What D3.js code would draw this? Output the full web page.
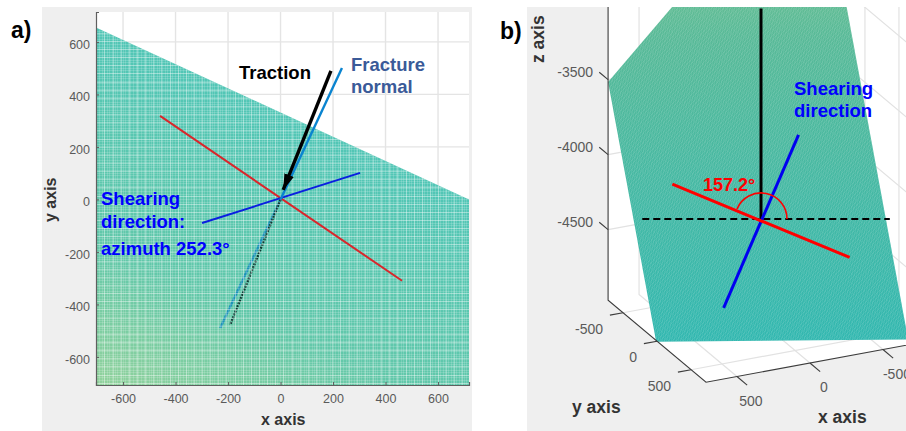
<!DOCTYPE html>
<html>
<head>
<meta charset="utf-8">
<script src="https://cdn.jsdelivr.net/npm/d3@7"></script>
<style>
  body { margin: 0; background: #fff; }
  svg { display: block; }
  text { font-family: 'Liberation Sans', Arial, sans-serif; }
  .tick-label { font-size: 12.5px; fill: #5a5a5a; }
  .tick-label-3d { font-size: 14px; fill: #5a5a5a; }
  .axis-name { font-size: 16px; font-weight: bold; fill: #333; }
  .note { font-size: 18.5px; font-weight: bold; }
</style>
</head>
<body>
<svg id="chart" width="906" height="431"></svg>
<script>
// tick labels
const xTicks2d = [-600, -400, -200, 0, 200, 400, 600];
const yTicks2d = [-600, -400, -200, 0, 200, 400, 600];
const xTicks3d = [-500, 0, 500];
const yTicks3d = [-500, 0, 500];
const zTicks3d = [-4500, -4000, -3500, -3000];

// fracture plane corners (read from both views)
const planeX = [718, -703, -703, 718];
const planeY = [0, 655, -707, -707];
const planeZ = [-4972, -4965, -2145, -3509];

// colour runs along the dip of the plane, low to high
const fadeX = [127, -395];
const fadeY = [273, -851];
const fadeZ = [-4970, -2145];
const fadeOffsets = [0, 0.6, 1];
const fadeColorsA = ['#52c6b6', '#62c8aa', '#92d29c'];
const fadeColorsB = ['#33b8b0', '#58ba98', '#8fc98a'];

// lines on the plane
const strikeX = [-459, 463];
const strikeY = [318, -310];
const strikeZ = [-4501, -4086];
const shearX = [-299, 303];
const shearY = [-90, 101];
const shearZ = [-3810, -4783];
const normalTopX = [0, 234];
const normalTopY = [0, 501];
const normalLowX = [0, -230];
const normalLowY = [0, -490];
const tractionTopX = [192, 10];
const tractionTopY = [490, 36];
const tractionLowX = [0, -192];
const tractionLowY = [0, -478];

// panel b extras
const verticalX = [0, 0];
const verticalY = [0, 0];
const verticalZ = [-4283, -2880];
const levelX = [666, -723];
const levelY = [-316, 342];
const levelZ = [-4283, -4283];
const dipAngle = [157.2];

const svg = d3.select('#chart');

// backgrounds
svg.append('rect').attr('x', 42).attr('y', 7).attr('width', 430).attr('height', 424).attr('fill', '#efefef');
svg.append('rect').attr('x', 527).attr('y', 7).attr('width', 379).attr('height', 424).attr('fill', '#efefef');

const defs = svg.append('defs');

defs.append('marker')
  .attr('id', 'head')
  .attr('viewBox', '0 0 16 10')
  .attr('refX', 16)
  .attr('refY', 5)
  .attr('markerUnits', 'userSpaceOnUse')
  .attr('markerWidth', 16)
  .attr('markerHeight', 10)
  .attr('orient', 'auto')
  .append('path')
  .attr('d', 'M0 0 L16 5 L0 10 Z')
  .attr('fill', '#000');

const addFade = (id, p0, p1, colors) => {
  const grad = defs.append('linearGradient')
    .attr('id', id)
    .attr('gradientUnits', 'userSpaceOnUse')
    .attr('x1', p0[0]).attr('y1', p0[1])
    .attr('x2', p1[0]).attr('y2', p1[1]);
  grad.selectAll('stop')
    .data(fadeOffsets)
    .enter()
    .append('stop')
    .attr('offset', d => d)
    .attr('stop-color', (d, i) => colors[i]);
};

const zipXY = (xs, ys) => xs.map((x, i) => [x, ys[i]]);
const zipXYZ = (xs, ys, zs) => xs.map((x, i) => [x, ys[i], zs[i]]);
const polyPoints = pts => pts.map(p => p.join(',')).join(' ');

// surface texture only, slopes fitted from the two views
const meshZ = (x, y) => -4283.5 - 0.96 * x - 2.07 * y;
const meshStep = 10;
const meshXs = d3.range(-700, 720, meshStep);
const meshYs = d3.range(-700, 660, meshStep);
const bandXs = d3.range(-700, 720, 31);
const bandYs = d3.range(-700, 660, 31);


/*
 ** Panel a, plan view
 */
const xScale = d3.scaleLinear().domain([-703, 718]).range([96, 469]);
const yScale = d3.scaleLinear().domain([-707, 714]).range([385, 12]);
const toA = p => [xScale(p[0]), yScale(p[1])];

const panelA = svg.append('g');

panelA.append('rect')
  .attr('x', xScale.range()[0])
  .attr('y', yScale.range()[1])
  .attr('width', xScale.range()[1] - xScale.range()[0])
  .attr('height', yScale.range()[0] - yScale.range()[1])
  .attr('fill', '#fff');

const gridA = panelA.append('g')
  .attr('fill', 'none')
  .attr('stroke', '#e4e4e4')
  .attr('stroke-width', 1.4);

gridA.selectAll('line.gx')
  .data(xTicks2d)
  .enter()
  .append('line')
  .attr('x1', d => xScale(d)).attr('x2', d => xScale(d))
  .attr('y1', yScale.range()[0]).attr('y2', yScale.range()[1]);

gridA.selectAll('line.gy')
  .data(yTicks2d)
  .enter()
  .append('line')
  .attr('y1', d => yScale(d)).attr('y2', d => yScale(d))
  .attr('x1', xScale.range()[0]).attr('x2', xScale.range()[1]);

addFade('fadeA', toA([fadeX[0], fadeY[0]]), toA([fadeX[1], fadeY[1]]), fadeColorsA);

const planeA = zipXY(planeX, planeY).map(toA);
defs.append('clipPath').attr('id', 'clipA').append('polygon').attr('points', polyPoints(planeA));

panelA.append('polygon')
  .attr('points', polyPoints(planeA))
  .attr('fill', 'url(#fadeA)');

const lineA = d3.line().x(d => xScale(d[0])).y(d => yScale(d[1]));

const drawA = (parent, xs, ys, color, width) => parent.append('path')
  .datum(zipXY(xs, ys))
  .attr('d', lineA)
  .attr('fill', 'none')
  .attr('stroke', color)
  .attr('stroke-width', width);

// these two sit under the plane, they only show through the mesh
drawA(panelA, normalLowX, normalLowY, '#1c93b8', 2.4);
drawA(panelA, tractionLowX, tractionLowY, '#0b3b33', 2.4).attr('stroke-dasharray', '2 1');

const addMesh = (xs, ys, opacity) => {
  const mesh = panelA.append('g')
    .attr('clip-path', 'url(#clipA)')
    .attr('stroke', '#fff')
    .attr('stroke-width', 1)
    .attr('stroke-opacity', opacity)
    .attr('shape-rendering', 'crispEdges');

  mesh.selectAll('line.mx')
    .data(xs)
    .enter()
    .append('line')
    .attr('x1', d => xScale(d)).attr('x2', d => xScale(d))
    .attr('y1', yScale.range()[0]).attr('y2', yScale.range()[1]);

  mesh.selectAll('line.my')
    .data(ys)
    .enter()
    .append('line')
    .attr('y1', d => yScale(d)).attr('y2', d => yScale(d))
    .attr('x1', xScale.range()[0]).attr('x2', xScale.range()[1]);
};

addMesh(meshXs, meshYs, 0.16);
addMesh(bandXs, bandYs, 0.3);

drawA(panelA, strikeX, strikeY, '#d9262b', 2);
drawA(panelA, shearX, shearY, '#0a1fe0', 2);
drawA(panelA, normalTopX, normalTopY, '#0a84d0', 2.4);
drawA(panelA, tractionTopX, tractionTopY, '#000', 3.4).attr('marker-end', 'url(#head)');

const axisBottomA = d3.axisBottom(xScale)
  .tickValues(xTicks2d)
  .tickFormat(d => String(d))
  .tickSize(-3)
  .tickPadding(9);

const axisLeftA = d3.axisLeft(yScale)
  .tickValues(yTicks2d)
  .tickFormat(d => String(d))
  .tickSize(-3)
  .tickPadding(6);

const xAxisA = panelA.append('g').attr('transform', `translate(0, ${yScale.range()[0]})`).call(axisBottomA);
const yAxisA = panelA.append('g').attr('transform', `translate(${xScale.range()[0]}, 0)`).call(axisLeftA);

[xAxisA, yAxisA].forEach(axis => {
  axis.selectAll('path.domain').attr('stroke', '#5f5f5f').attr('stroke-width', 1.2);
  axis.selectAll('line').attr('stroke', '#5f5f5f');
  axis.selectAll('text').attr('class', 'tick-label').attr('fill', null);
  axis.attr('font-family', null).attr('font-size', null);
});
yAxisA.selectAll('text').attr('dy', '0.5em');

panelA.append('text').attr('class', 'axis-name').attr('x', 261).attr('y', 425).text('x axis');
panelA.append('text').attr('class', 'axis-name')
  .attr('transform', 'translate(56, 222) rotate(-90)')
  .text('y axis');

const note = (x, y, txt, color) => svg.append('text')
  .attr('class', 'note')
  .attr('x', x)
  .attr('y', y)
  .attr('fill', color)
  .text(txt);

note(11, 38, 'a)', '#000').style('font-size', '23px');
note(239, 79, 'Traction', '#000');
note(351, 71, 'Fracture', '#3a5a98');
note(351, 93, 'normal', '#3a5a98');
note(101, 205, 'Shearing', '#0000ff');
note(101, 228, 'direction:', '#0000ff');
note(101, 255, 'azimuth 252.3°', '#0000ff');


/*
 ** Panel b, 3D view
 */
const limX = 712;
const limY = 720;
const floorZ = -4970;
const topZ = -2000;
const project = p => [
  761 - 0.146 * p[0] + 0.068 * p[1],
  322 + 0.027 * p[0] + 0.057 * p[1] - 0.15 * (p[2] - floorZ)
];

defs.append('clipPath').attr('id', 'clipPanelB')
  .append('rect').attr('x', 527).attr('y', 7).attr('width', 379).attr('height', 424);

const panelB = svg.append('g').attr('clip-path', 'url(#clipPanelB)');

panelB.append('polygon')
  .attr('points', polyPoints([
    [limX, -limY, floorZ], [limX, limY, floorZ], [-limX, limY, floorZ],
    [-limX, limY, topZ], [-limX, -limY, topZ], [limX, -limY, topZ]
  ].map(project)))
  .attr('fill', '#fff');

const line3d = d3.line().x(d => project(d)[0]).y(d => project(d)[1]);

const gridB = panelB.append('g')
  .attr('fill', 'none')
  .attr('stroke', '#e2e2e2')
  .attr('stroke-width', 1.2);

xTicks3d.forEach(x => {
  gridB.append('path').datum([[x, limY, floorZ], [x, -limY, floorZ], [x, -limY, topZ]]).attr('d', line3d);
});
yTicks3d.forEach(y => {
  gridB.append('path').datum([[limX, y, floorZ], [-limX, y, floorZ], [-limX, y, topZ]]).attr('d', line3d);
});
zTicks3d.forEach(z => {
  gridB.append('path').datum([[limX, -limY, z], [-limX, -limY, z], [-limX, limY, z]]).attr('d', line3d);
});

addFade('fadeB', project([fadeX[0], fadeY[0], fadeZ[0]]), project([fadeX[1], fadeY[1], fadeZ[1]]), fadeColorsB);

const planeB = zipXYZ(planeX, planeY, planeZ).map(project);
defs.append('clipPath').attr('id', 'clipB').append('polygon').attr('points', polyPoints(planeB));

panelB.append('polygon')
  .attr('points', polyPoints(planeB))
  .attr('fill', 'url(#fadeB)');

const meshB = panelB.append('g')
  .attr('clip-path', 'url(#clipB)')
  .attr('stroke', '#fff')
  .attr('stroke-width', 0.6)
  .attr('stroke-opacity', 0.13)
  .attr('shape-rendering', 'crispEdges')
  .attr('fill', 'none');

meshXs.forEach(x => {
  meshB.append('path').datum([[x, -707, meshZ(x, -707)], [x, 655, meshZ(x, 655)]]).attr('d', line3d);
});
meshYs.forEach(y => {
  meshB.append('path').datum([[-703, y, meshZ(-703, y)], [718, y, meshZ(718, y)]]).attr('d', line3d);
});

const drawB = (xs, ys, zs, color, width) => panelB.append('path')
  .datum(zipXYZ(xs, ys, zs))
  .attr('d', line3d)
  .attr('fill', 'none')
  .attr('stroke', color)
  .attr('stroke-width', width);

drawB(levelX, levelY, levelZ, '#000', 2).attr('stroke-dasharray', '7 4');
drawB(verticalX, verticalY, verticalZ, '#000', 3);
drawB(shearX, shearY, shearZ, '#0000f0', 3);
drawB(strikeX, strikeY, strikeZ, '#f00', 3);

// angle between level line and strike line
const arcCentre = project([verticalX[0], verticalY[0], verticalZ[0]]);
panelB.selectAll('path.dip')
  .data(dipAngle)
  .enter()
  .append('path')
  .attr('class', 'dip')
  .attr('transform', `translate(${arcCentre[0]}, ${arcCentre[1]})`)
  .attr('d', d => d3.arc()({
    innerRadius: 26,
    outerRadius: 26,
    startAngle: Math.PI / 2,
    endAngle: Math.PI / 2 - d * Math.PI / 180
  }))
  .attr('fill', 'none')
  .attr('stroke', '#f00')
  .attr('stroke-width', 1.6);

// box edges and ticks
const edgesB = panelB.append('g').attr('fill', 'none').attr('stroke', '#3c3c3c').attr('stroke-width', 1.1);

edgesB.append('path')
  .datum([[limX, -limY, topZ], [limX, -limY, floorZ], [limX, limY, floorZ], [-limX, limY, floorZ]])
  .attr('d', line3d);

xTicks3d.forEach(x => {
  edgesB.append('path').datum([[x, limY, floorZ], [x, limY + 150, floorZ]]).attr('d', line3d);
});
yTicks3d.forEach(y => {
  edgesB.append('path').datum([[limX, y, floorZ], [limX + 90, y, floorZ]]).attr('d', line3d);
});
zTicks3d.forEach(z => {
  edgesB.append('path').datum([[limX, -limY, z], [limX, -limY - 130, z]]).attr('d', line3d);
});

// 3D tick labels, offset from the tick on the box edge
const label3d = (data, toPoint, dx, dy, anchor) => panelB.append('g')
  .selectAll('text')
  .data(data)
  .enter()
  .append('text')
  .attr('class', 'tick-label-3d')
  .attr('text-anchor', anchor)
  .attr('x', d => project(toPoint(d))[0] + dx)
  .attr('y', d => project(toPoint(d))[1] + dy)
  .text(d => String(d));

label3d(xTicks3d, d => [d, limY, floorZ], 14, 29, 'middle');
label3d(yTicks3d, d => [limX, d, floorZ], -20, 21, 'end');
label3d(zTicks3d.slice(0, 3), d => [limX, -limY, d], -15, -3, 'end');

note(500, 39, 'b)', '#000').style('font-size', '23px');
note(794, 95, 'Shearing', '#0000ff');
note(794, 117, 'direction', '#0000ff');
note(703, 191, '157.2°', '#f00').style('font-size', '18px');

svg.append('text').attr('class', 'axis-name').attr('x', 572).attr('y', 413).style('font-size', '17.5px').text('y axis');
svg.append('text').attr('class', 'axis-name').attr('x', 818).attr('y', 423).style('font-size', '17.5px').text('x axis');
svg.append('text').attr('class', 'axis-name')
  .attr('transform', 'translate(544, 63) rotate(-90)')
  .style('font-size', '17.5px')
  .text('z axis');
</script>
</body>
</html>
